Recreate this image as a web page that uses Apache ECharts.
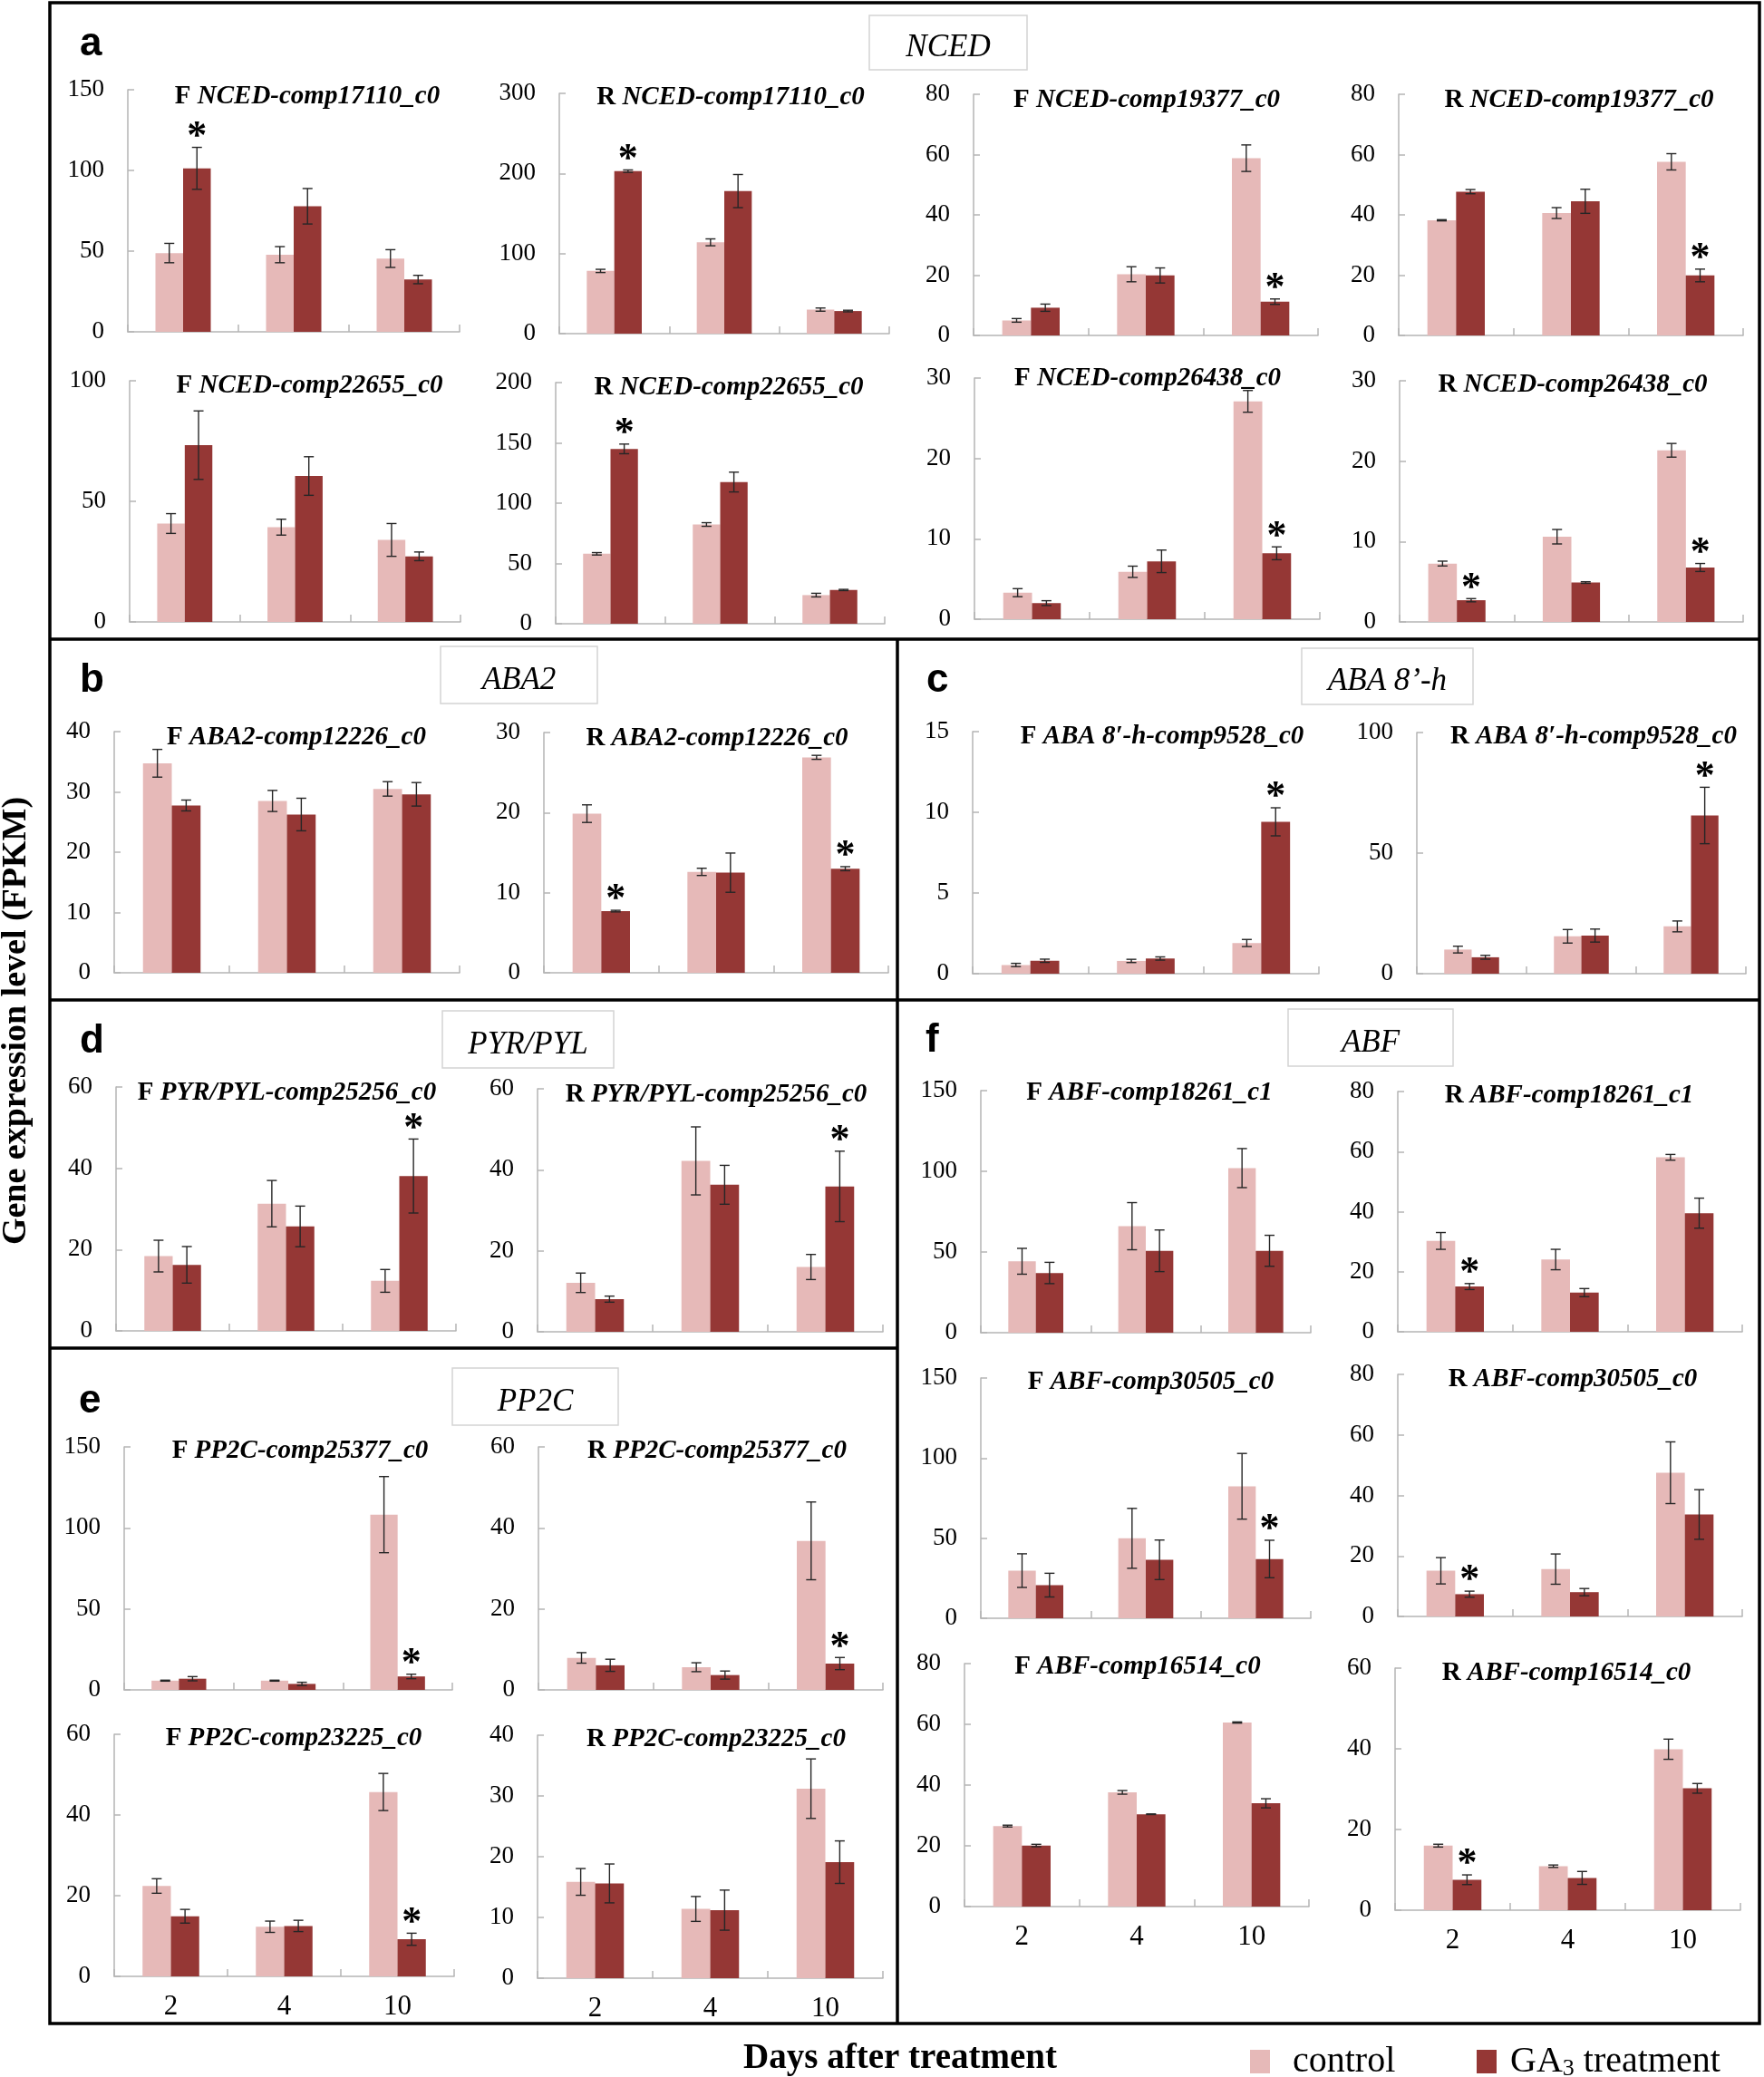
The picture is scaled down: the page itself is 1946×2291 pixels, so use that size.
<!DOCTYPE html>
<html><head><meta charset="utf-8">
<script src="https://cdn.jsdelivr.net/npm/echarts@6/dist/echarts.min.js"></script>
<style>html,body{margin:0;padding:0;background:#fff}#c{width:1946px;height:2291px}</style>
</head><body><div id="c"></div>
<script>
// ---------------- DATA ----------------
const days = ['2', '4', '10'];
const tissue = ['F','R','F','R','F','R','F','R','F','R','F','R','F','R','F','R','F','R','F','R','F','R','F','R'];
const gene = ['NCED-comp17110_c0','NCED-comp17110_c0','NCED-comp19377_c0','NCED-comp19377_c0',
  'NCED-comp22655_c0','NCED-comp22655_c0','NCED-comp26438_c0','NCED-comp26438_c0',
  'ABA2-comp12226_c0','ABA2-comp12226_c0','ABA 8\u2032-h-comp9528_c0','ABA 8\u2032-h-comp9528_c0',
  'PYR/PYL-comp25256_c0','PYR/PYL-comp25256_c0','PP2C-comp25377_c0','PP2C-comp25377_c0',
  'PP2C-comp23225_c0','PP2C-comp23225_c0','ABF-comp18261_c1','ABF-comp18261_c1',
  'ABF-comp30505_c0','ABF-comp30505_c0','ABF-comp16514_c0','ABF-comp16514_c0'];
const yMax  = [150,300,80,80,100,200,30,30,40,30,15,100,60,60,150,60,60,40,150,80,150,80,80,60];
const yStep = [50,100,20,20,50,50,10,10,10,10,5,50,20,20,50,20,20,10,50,20,50,20,20,20];
const showDays = [0,0,0,0,0,0,0,0,0,0,0,0,0,0,0,0,1,1,0,0,0,0,1,1];
const sectionNames = ['NCED', 'ABA2', 'ABA 8\u2019-h', 'PYR/PYL', 'PP2C', 'ABF'];
const sectionLetters = ['a', 'b', 'c', 'd', 'e', 'f'];
const seriesNames = ['control', 'GA3 treatment'];

const F_NCED17110_control = [48.8, 47.8, 45.4];
const F_NCED17110_ga3 = [101.3, 77.8, 32.4];
const F_NCED17110_controlSD = [6, 5, 5.5];
const F_NCED17110_ga3SD = [13, 11, 2.6];
const F_NCED17110_sig = [1, 0, 0];

const R_NCED17110_control = [78.3, 114, 30];
const R_NCED17110_ga3 = [202.9, 178, 28.2];
const R_NCED17110_controlSD = [2, 4.3, 2];
const R_NCED17110_ga3SD = [1.5, 20.7, 1];
const R_NCED17110_sig = [1, 0, 0];

const F_NCED19377_control = [5.0, 20.3, 58.8];
const F_NCED19377_ga3 = [9.2, 19.9, 11.2];
const F_NCED19377_controlSD = [0.6, 2.5, 4.4];
const F_NCED19377_ga3SD = [1.2, 2.5, 0.9];
const F_NCED19377_sig = [0, 0, 1];

const R_NCED19377_control = [38.2, 40.6, 57.6];
const R_NCED19377_ga3 = [47.7, 44.5, 19.9];
const R_NCED19377_controlSD = [0.2, 1.8, 2.7];
const R_NCED19377_ga3SD = [0.7, 4, 2.1];
const R_NCED19377_sig = [0, 0, 1];

const F_NCED22655_control = [40.8, 39.3, 34];
const F_NCED22655_ga3 = [73.3, 60.5, 27.2];
const F_NCED22655_controlSD = [4.1, 3.3, 6.8];
const F_NCED22655_ga3SD = [14.2, 8, 1.8];
const F_NCED22655_sig = [0, 0, 0];

const R_NCED22655_control = [58, 82.3, 23.75];
const R_NCED22655_ga3 = [145, 117.5, 28];
const R_NCED22655_controlSD = [1, 1.5, 1.5];
const R_NCED22655_ga3SD = [4, 8.2, 0.5];
const R_NCED22655_sig = [1, 0, 0];

const F_NCED26438_control = [3.3, 5.9, 27.1];
const F_NCED26438_ga3 = [2.0, 7.2, 8.2];
const F_NCED26438_controlSD = [0.5, 0.7, 1.35];
const F_NCED26438_ga3SD = [0.3, 1.4, 0.8];
const F_NCED26438_sig = [0, 0, 1];

const R_NCED26438_control = [7.26, 10.6, 21.35];
const R_NCED26438_ga3 = [2.7, 4.9, 6.77];
const R_NCED26438_controlSD = [0.3, 0.9, 0.85];
const R_NCED26438_ga3SD = [0.2, 0.1, 0.5];
const R_NCED26438_sig = [1, 0, 1];

const F_ABA2_control = [34.75, 28.5, 30.5];
const F_ABA2_ga3 = [27.75, 26.25, 29.6];
const F_ABA2_controlSD = [2.3, 1.75, 1.2];
const F_ABA2_ga3SD = [0.9, 2.7, 1.95];
const F_ABA2_sig = [0, 0, 0];

const R_ABA2_control = [19.87, 12.6, 26.9];
const R_ABA2_ga3 = [7.7, 12.5, 13.0];
const R_ABA2_controlSD = [1.1, 0.45, 0.25];
const R_ABA2_ga3SD = [0.1, 2.45, 0.25];
const R_ABA2_sig = [1, 0, 1];

const F_ABA8h_control = [0.54, 0.79, 1.9];
const F_ABA8h_ga3 = [0.8, 0.94, 9.41];
const F_ABA8h_controlSD = [0.1, 0.1, 0.22];
const F_ABA8h_ga3SD = [0.1, 0.1, 0.87];
const F_ABA8h_sig = [0, 0, 1];

const R_ABA8h_control = [10, 15.5, 19.6];
const R_ABA8h_ga3 = [6.8, 15.8, 65.6];
const R_ABA8h_controlSD = [1.4, 2.8, 2.25];
const R_ABA8h_ga3SD = [0.8, 2.7, 11.7];
const R_ABA8h_sig = [0, 0, 1];

const F_PYR_control = [18.4, 31.3, 12.3];
const F_PYR_ga3 = [16.25, 25.7, 38.1];
const F_PYR_controlSD = [3.9, 5.7, 2.8];
const F_PYR_ga3SD = [4.5, 5, 9.1];
const F_PYR_sig = [0, 0, 1];

const R_PYR_control = [12.1, 42.2, 16];
const R_PYR_ga3 = [8.06, 36.3, 35.9];
const R_PYR_controlSD = [2.4, 8.4, 3.1];
const R_PYR_ga3SD = [0.75, 4.8, 8.7];
const R_PYR_sig = [0, 0, 1];

const F_PP2C25377_control = [5.7, 5.7, 108.2];
const F_PP2C25377_ga3 = [6.9, 3.7, 8.3];
const F_PP2C25377_controlSD = [0.3, 0.3, 23.5];
const F_PP2C25377_ga3SD = [1.3, 1, 1.4];
const F_PP2C25377_sig = [0, 0, 1];

const R_PP2C25377_control = [7.9, 5.6, 36.8];
const R_PP2C25377_ga3 = [6.07, 3.66, 6.5];
const R_PP2C25377_controlSD = [1.3, 1.1, 9.6];
const R_PP2C25377_ga3SD = [1.5, 1, 1.5];
const R_PP2C25377_sig = [0, 0, 1];

const F_PP2C23225_control = [22.4, 12.3, 45.7];
const F_PP2C23225_ga3 = [14.9, 12.5, 9.2];
const F_PP2C23225_controlSD = [1.8, 1.4, 4.6];
const F_PP2C23225_ga3SD = [1.7, 1.4, 1.5];
const F_PP2C23225_sig = [0, 0, 1];

const R_PP2C23225_control = [15.85, 11.4, 31.2];
const R_PP2C23225_ga3 = [15.6, 11.2, 19.1];
const R_PP2C23225_controlSD = [2.2, 2.05, 4.9];
const R_PP2C23225_ga3SD = [3.2, 3.3, 3.5];
const R_PP2C23225_sig = [0, 0, 0];

const F_ABF18261_control = [44.25, 66, 102];
const F_ABF18261_ga3 = [37, 50.75, 50.75];
const F_ABF18261_controlSD = [8, 14.6, 12.1];
const F_ABF18261_ga3SD = [6.6, 12.9, 9.6];
const F_ABF18261_sig = [0, 0, 0];

const R_ABF18261_control = [30.25, 24.06, 58.1];
const R_ABF18261_ga3 = [15.06, 13.04, 39.5];
const R_ABF18261_controlSD = [2.8, 3.4, 0.95];
const R_ABF18261_ga3SD = [1, 1.35, 5];
const R_ABF18261_sig = [1, 0, 0];

const F_ABF30505_control = [29.75, 49.9, 82.4];
const F_ABF30505_ga3 = [20.7, 36.5, 37];
const F_ABF30505_controlSD = [10.5, 18.7, 20.5];
const F_ABF30505_ga3SD = [7.4, 12.35, 11.7];
const F_ABF30505_sig = [0, 0, 1];

const R_ABF30505_control = [15.1, 15.65, 47.5];
const R_ABF30505_ga3 = [7.36, 8.03, 33.7];
const R_ABF30505_controlSD = [4.35, 5, 10.2];
const R_ABF30505_ga3SD = [1, 1.2, 8.2];
const R_ABF30505_sig = [1, 0, 0];

const F_ABF16514_control = [26.5, 37.6, 60.6];
const F_ABF16514_ga3 = [20.1, 30.4, 34];
const F_ABF16514_controlSD = [0.3, 0.6, 0.2];
const F_ABF16514_ga3SD = [0.4, 0.1, 1.5];
const F_ABF16514_sig = [0, 0, 0];

const R_ABF16514_control = [16.0, 10.9, 39.9];
const R_ABF16514_ga3 = [7.55, 8.0, 30.2];
const R_ABF16514_controlSD = [0.35, 0.3, 2.5];
const R_ABF16514_ga3SD = [1.2, 1.6, 1.2];
const R_ABF16514_sig = [1, 0, 0];

// ---------------- LAYOUT (pixel positions) ----------------
// [axisLeft, axisRight, axisTop, axisBottom, titleCenterX, titleCenterY]
const boxes = [
  [141, 507, 99, 366, 339, 107], [617, 981, 103, 368, 806, 107.5],
  [1074, 1454, 104, 370, 1265, 110.5], [1543, 1923, 104, 370, 1742, 110.5],
  [143, 508, 420, 686, 341.5, 425.5], [613, 976, 422, 688, 804, 428],
  [1075, 1456, 417, 683, 1266, 418], [1544, 1923, 420, 686, 1735, 425],
  [126, 507, 807, 1073, 327, 814], [600, 980, 808, 1073, 791, 814.5],
  [1073, 1455, 807, 1074, 1282, 813], [1563, 1926, 808, 1074, 1758, 813],
  [128, 503, 1199, 1468, 316.5, 1206], [593, 974, 1201, 1469, 790, 1207.5],
  [137, 499, 1596, 1864, 331, 1601], [594, 974, 1596, 1864, 791, 1601],
  [126, 501, 1913, 2180, 324, 1918], [593, 974, 1914, 2182, 790, 1919],
  [1082, 1446, 1203, 1470, 1268, 1206], [1542, 1922, 1204, 1469, 1731, 1208.5],
  [1082, 1446, 1520, 1785, 1269.5, 1524.5], [1542, 1922, 1516, 1783, 1735, 1522],
  [1064, 1444, 1835, 2103, 1255, 1839], [1539, 1920, 1840, 2107, 1728, 1845.5]
];
// section title boxes [x0, y0, x1, y1]
const sectionBoxes = [[959,17,1133,77],[486,713,659,776],[1436,715,1625,777],[488,1115,677,1178],[499,1509,682,1572],[1421,1113,1603,1176]];
// section letters [x(left), y(middle)]
const letterPos = [[88,49],[88,751],[1022,751],[88,1149],[87,1546],[1021,1148]];

const plotData = [
  [F_NCED17110_control, F_NCED17110_ga3, F_NCED17110_controlSD, F_NCED17110_ga3SD, F_NCED17110_sig],
  [R_NCED17110_control, R_NCED17110_ga3, R_NCED17110_controlSD, R_NCED17110_ga3SD, R_NCED17110_sig],
  [F_NCED19377_control, F_NCED19377_ga3, F_NCED19377_controlSD, F_NCED19377_ga3SD, F_NCED19377_sig],
  [R_NCED19377_control, R_NCED19377_ga3, R_NCED19377_controlSD, R_NCED19377_ga3SD, R_NCED19377_sig],
  [F_NCED22655_control, F_NCED22655_ga3, F_NCED22655_controlSD, F_NCED22655_ga3SD, F_NCED22655_sig],
  [R_NCED22655_control, R_NCED22655_ga3, R_NCED22655_controlSD, R_NCED22655_ga3SD, R_NCED22655_sig],
  [F_NCED26438_control, F_NCED26438_ga3, F_NCED26438_controlSD, F_NCED26438_ga3SD, F_NCED26438_sig],
  [R_NCED26438_control, R_NCED26438_ga3, R_NCED26438_controlSD, R_NCED26438_ga3SD, R_NCED26438_sig],
  [F_ABA2_control, F_ABA2_ga3, F_ABA2_controlSD, F_ABA2_ga3SD, F_ABA2_sig],
  [R_ABA2_control, R_ABA2_ga3, R_ABA2_controlSD, R_ABA2_ga3SD, R_ABA2_sig],
  [F_ABA8h_control, F_ABA8h_ga3, F_ABA8h_controlSD, F_ABA8h_ga3SD, F_ABA8h_sig],
  [R_ABA8h_control, R_ABA8h_ga3, R_ABA8h_controlSD, R_ABA8h_ga3SD, R_ABA8h_sig],
  [F_PYR_control, F_PYR_ga3, F_PYR_controlSD, F_PYR_ga3SD, F_PYR_sig],
  [R_PYR_control, R_PYR_ga3, R_PYR_controlSD, R_PYR_ga3SD, R_PYR_sig],
  [F_PP2C25377_control, F_PP2C25377_ga3, F_PP2C25377_controlSD, F_PP2C25377_ga3SD, F_PP2C25377_sig],
  [R_PP2C25377_control, R_PP2C25377_ga3, R_PP2C25377_controlSD, R_PP2C25377_ga3SD, R_PP2C25377_sig],
  [F_PP2C23225_control, F_PP2C23225_ga3, F_PP2C23225_controlSD, F_PP2C23225_ga3SD, F_PP2C23225_sig],
  [R_PP2C23225_control, R_PP2C23225_ga3, R_PP2C23225_controlSD, R_PP2C23225_ga3SD, R_PP2C23225_sig],
  [F_ABF18261_control, F_ABF18261_ga3, F_ABF18261_controlSD, F_ABF18261_ga3SD, F_ABF18261_sig],
  [R_ABF18261_control, R_ABF18261_ga3, R_ABF18261_controlSD, R_ABF18261_ga3SD, R_ABF18261_sig],
  [F_ABF30505_control, F_ABF30505_ga3, F_ABF30505_controlSD, F_ABF30505_ga3SD, F_ABF30505_sig],
  [R_ABF30505_control, R_ABF30505_ga3, R_ABF30505_controlSD, R_ABF30505_ga3SD, R_ABF30505_sig],
  [F_ABF16514_control, F_ABF16514_ga3, F_ABF16514_controlSD, F_ABF16514_ga3SD, F_ABF16514_sig],
  [R_ABF16514_control, R_ABF16514_ga3, R_ABF16514_controlSD, R_ABF16514_ga3SD, R_ABF16514_sig]
];

// ---------------- STYLE ----------------
const SERIF = "'Liberation Serif', 'Times New Roman', serif";
const SANS = "'Liberation Sans', Arial, sans-serif";
const C_CTRL = '#E6B9B8';
const C_GA3 = '#953735';
const AXC = '#b5b5b5';

function renderErr(params, api) {
  const k = api.value(0), v = api.value(1), e = api.value(2), w = api.value(3), s = api.value(4);
  const band = api.size([1, 0])[0];
  const cx = api.coord([k, v])[0] + (w ? 0.125 : -0.125) * band;
  const yt = api.coord([k, v + e])[1];
  const yb = api.coord([k, Math.max(0, v - e)])[1];
  const cap = 5.5;
  const st = { stroke: '#262626', lineWidth: 1.4 };
  const ch = [
    { type: 'line', shape: { x1: cx, y1: yt, x2: cx, y2: yb }, style: st },
    { type: 'line', shape: { x1: cx - cap, y1: yt, x2: cx + cap, y2: yt }, style: st },
    { type: 'line', shape: { x1: cx - cap, y1: yb, x2: cx + cap, y2: yb }, style: st }
  ];
  if (s) {
    ch.push({ type: 'text', x: cx, y: yt - 11, style: {
      text: '*', font: 'bold 44px ' + SERIF, fill: '#000',
      align: 'center', verticalAlign: 'middle', textAlign: 'center', textVerticalAlign: 'middle' } });
  }
  return { type: 'group', children: ch };
}

const grids = [], xAxes = [], yAxes = [], series = [], graphics = [];
boxes.forEach((b, i) => {
  grids.push({ left: b[0], top: b[2], width: b[1] - b[0], height: b[3] - b[2], containLabel: false });
  xAxes.push({
    type: 'category', gridIndex: i, data: days,
    axisLine: { lineStyle: { color: AXC, width: 1.5 } },
    axisTick: { show: true, inside: true, length: 8, lineStyle: { color: AXC, width: 1.5 } },
    axisLabel: { show: !!showDays[i], fontFamily: SERIF, fontSize: 31, color: '#000', margin: 18 }
  });
  yAxes.push({
    type: 'value', gridIndex: i, min: 0, max: yMax[i], interval: yStep[i],
    splitLine: { show: false },
    axisLine: { show: true, lineStyle: { color: AXC, width: 1.5 } },
    axisTick: { show: true, inside: true, length: 7, lineStyle: { color: AXC, width: 1.5 } },
    axisLabel: { fontFamily: SERIF, fontSize: 27, color: '#000', margin: 26 }
  });
  const d = plotData[i];
  series.push({ type: 'bar', name: seriesNames[0], xAxisIndex: i, yAxisIndex: i, data: d[0],
    itemStyle: { color: C_CTRL }, barGap: '0%', barCategoryGap: '50%', silent: true });
  series.push({ type: 'bar', name: seriesNames[1], xAxisIndex: i, yAxisIndex: i, data: d[1],
    itemStyle: { color: C_GA3 }, barGap: '0%', barCategoryGap: '50%', silent: true });
  const errData = [];
  for (let k = 0; k < days.length; k++) {
    errData.push([k, d[0][k], d[2][k], 0, 0]);
    errData.push([k, d[1][k], d[3][k], 1, d[4][k]]);
  }
  series.push({ type: 'custom', xAxisIndex: i, yAxisIndex: i, data: errData, renderItem: renderErr,
    encode: { x: 0, y: 1 }, clip: false, z: 5, silent: true });
  graphics.push({ type: 'text', x: b[4], y: b[5], style: {
    text: '{r|' + tissue[i] + ' }{i|' + gene[i] + '}',
    rich: {
      r: { fontFamily: SERIF, fontWeight: 'bold', fontSize: 29, fill: '#000' },
      i: { fontFamily: SERIF, fontWeight: 'bold', fontStyle: 'italic', fontSize: 29, fill: '#000' }
    },
    align: 'center', verticalAlign: 'middle', textAlign: 'center', textVerticalAlign: 'middle' } });
});

// borders
const K = { stroke: '#000', lineWidth: 3.5 };
graphics.push({ type: 'rect', shape: { x: 55, y: 3, width: 1886, height: 2229 }, style: { fill: null, stroke: '#000', lineWidth: 3.5 } });
graphics.push({ type: 'line', shape: { x1: 55, y1: 705, x2: 1941, y2: 705 }, style: K });
graphics.push({ type: 'line', shape: { x1: 55, y1: 1103, x2: 1941, y2: 1103 }, style: K });
graphics.push({ type: 'line', shape: { x1: 55, y1: 1487, x2: 990, y2: 1487 }, style: K });
graphics.push({ type: 'line', shape: { x1: 990, y1: 705, x2: 990, y2: 2232 }, style: K });

sectionBoxes.forEach((sb, j) => {
  graphics.push({ type: 'rect', shape: { x: sb[0], y: sb[1], width: sb[2] - sb[0], height: sb[3] - sb[1] },
    style: { fill: '#fff', stroke: '#d4d4d4', lineWidth: 1.5 } });
  graphics.push({ type: 'text', x: (sb[0] + sb[2]) / 2, y: (sb[1] + sb[3]) / 2 + 6, style: {
    text: sectionNames[j], font: 'italic 35px ' + SERIF, fill: '#000',
    align: 'center', verticalAlign: 'middle', textAlign: 'center', textVerticalAlign: 'middle' } });
  graphics.push({ type: 'text', x: letterPos[j][0], y: letterPos[j][1], style: {
    text: sectionLetters[j], font: 'bold 44px ' + SANS, fill: '#000',
    align: 'left', verticalAlign: 'middle', textAlign: 'left', textVerticalAlign: 'middle' } });
});

graphics.push({ type: 'text', x: 18, y: 1126, rotation: Math.PI / 2, style: {
  text: 'Gene expression level (FPKM)', font: 'bold 38px ' + SERIF, fill: '#000',
  align: 'center', verticalAlign: 'middle', textAlign: 'center', textVerticalAlign: 'middle' } });
graphics.push({ type: 'text', x: 993, y: 2271, style: {
  text: 'Days after treatment', font: 'bold 39px ' + SERIF, fill: '#000',
  align: 'center', verticalAlign: 'middle', textAlign: 'center', textVerticalAlign: 'middle' } });

const option = {
  animation: false,
  backgroundColor: '#fff',
  grid: grids, xAxis: xAxes, yAxis: yAxes, series: series,
  legend: [
    { data: [seriesNames[0]], left: 1379, top: 2254, padding: 0, icon: 'rect', itemWidth: 22, itemHeight: 26,
      selectedMode: false, formatter: n => '  ' + n,
      textStyle: { fontFamily: SERIF, fontSize: 40, color: '#000' } },
    { data: [seriesNames[1]], left: 1629, top: 2254, padding: 0, icon: 'rect', itemWidth: 22, itemHeight: 26,
      selectedMode: false, formatter: () => '{n| GA}{s|3}{n| treatment}',
      textStyle: { fontFamily: SERIF, fontSize: 40, color: '#000',
        rich: { n: { fontFamily: SERIF, fontSize: 40, color: '#000' },
                s: { fontFamily: SERIF, fontSize: 26, color: '#000', padding: [16, 0, 0, 0] } } } }
  ],
  graphic: { elements: graphics }
};
const chart = echarts.init(document.getElementById('c'), null, { renderer: 'canvas' });
chart.setOption(option);
</script></body></html>
